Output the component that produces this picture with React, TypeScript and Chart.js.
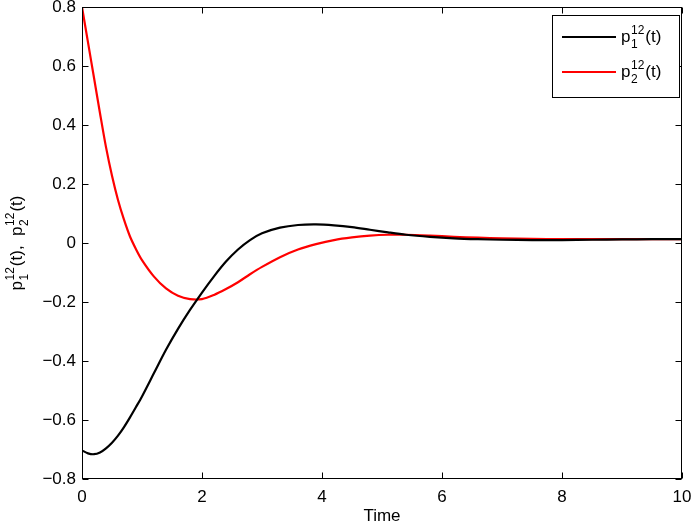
import React, { useEffect, useRef } from "react";
import { Chart, registerables } from "chart.js";
Chart.register(...registerables);

const time = [0, 0.1, 0.2, 0.3, 0.4, 0.5, 0.6, 0.7, 0.8, 0.9, 1.0, 1.2, 1.4, 1.6, 1.8, 2.0, 2.2, 2.4, 2.6, 2.8, 3.0, 3.3, 3.6, 3.9, 4.2, 4.5, 4.8, 5.1, 5.4, 5.8, 6.2, 6.6, 7.0, 7.5, 8.0, 8.5, 9.0, 9.5, 10.0];
const p1 = [-0.703, -0.713, -0.716, -0.710, -0.696, -0.677, -0.653, -0.624, -0.591, -0.556, -0.520, -0.441, -0.362, -0.291, -0.227, -0.168, -0.113, -0.063, -0.022, 0.010, 0.033, 0.052, 0.061, 0.063, 0.060, 0.054, 0.045, 0.036, 0.028, 0.021, 0.016, 0.013, 0.011, 0.010, 0.010, 0.011, 0.012, 0.013, 0.013];
const p2 = [0.800, 0.680, 0.560, 0.440, 0.325, 0.228, 0.146, 0.079, 0.022, -0.021, -0.058, -0.114, -0.154, -0.179, -0.190, -0.190, -0.176, -0.156, -0.133, -0.106, -0.081, -0.048, -0.022, -0.004, 0.010, 0.019, 0.025, 0.028, 0.028, 0.025, 0.021, 0.018, 0.016, 0.014, 0.013, 0.013, 0.013, 0.013, 0.013];
const xTicks = [0, 2, 4, 6, 8, 10];
const yTicks = [-0.8, -0.6, -0.4, -0.2, 0, 0.2, 0.4, 0.6, 0.8];
const seriesNames = [
  { base: "p", sub: "1", sup: "12", tail: "(t)" },
  { base: "p", sub: "2", sup: "12", tail: "(t)" },
];
const seriesColors = ["#000000", "#ff0000"];
const xTitle = "Time";

const FONT = '"Liberation Sans", Arial, Helvetica, sans-serif';
const FS = 17;

type Part = { t: string } | { base: string; sub: string; sup: string };

function drawMath(ctx: CanvasRenderingContext2D, parts: Part[], x: number, y: number, size: number, draw: boolean): number {
  let cx = x;
  const small = Math.round(size * 0.72);
  ctx.textBaseline = "alphabetic";
  ctx.textAlign = "left";
  for (const p of parts) {
    if ("t" in p) {
      ctx.font = `${size}px ${FONT}`;
      if (draw) ctx.fillText(p.t, cx, y);
      cx += ctx.measureText(p.t).width;
    } else {
      ctx.font = `${size}px ${FONT}`;
      if (draw) ctx.fillText(p.base, cx, y);
      cx += ctx.measureText(p.base).width + 0.5;
      ctx.font = `${small}px ${FONT}`;
      const ws = ctx.measureText(p.sup).width;
      const wb = ctx.measureText(p.sub).width;
      if (draw) {
        ctx.fillText(p.sup, cx, y - size * 0.45);
        ctx.fillText(p.sub, cx, y + size * 0.33);
      }
      cx += Math.max(ws, wb) + 1;
    }
  }
  return cx - x;
}

const decor = {
  id: "decor",
  afterDatasetsDraw(chart: any) {
    const ctx: CanvasRenderingContext2D = chart.ctx;
    const a = chart.chartArea;
    const xs = chart.scales.x;
    const ys = chart.scales.y;
    ctx.save();
    ctx.strokeStyle = "#000";
    ctx.lineWidth = 1;
    const L = Math.round(a.left) + 0.5;
    const R = Math.round(a.right) - 0.5;
    const T = Math.round(a.top) + 0.5;
    const B = Math.round(a.bottom) - 0.5;
    ctx.strokeRect(L, T, R - L, B - T);
    const tl = 6;
    ctx.beginPath();
    for (const v of xTicks) {
      const px = Math.round(xs.getPixelForValue(v)) + 0.5;
      ctx.moveTo(px, B); ctx.lineTo(px, B - tl);
      ctx.moveTo(px, T); ctx.lineTo(px, T + tl);
    }
    for (const v of yTicks) {
      const py = Math.round(ys.getPixelForValue(v)) + 0.5;
      ctx.moveTo(L, py); ctx.lineTo(L + tl, py);
      ctx.moveTo(R, py); ctx.lineTo(R - tl, py);
    }
    ctx.stroke();

    // legend
    const lx = 552.5, ly = 15.5, lw = 127, lh = 82;
    ctx.fillStyle = "#fff";
    ctx.fillRect(lx, ly, lw, lh);
    ctx.strokeRect(lx, ly, lw, lh);
    const rows = [37, 72];
    seriesNames.forEach((n, i) => {
      ctx.strokeStyle = seriesColors[i];
      ctx.lineWidth = 2;
      ctx.beginPath();
      ctx.moveTo(562, rows[i]);
      ctx.lineTo(616, rows[i]);
      ctx.stroke();
      ctx.fillStyle = "#000";
      drawMath(ctx, [{ base: n.base, sub: n.sub, sup: n.sup }, { t: n.tail }], 621, rows[i] + 5, FS, true);
    });

    // x title
    ctx.fillStyle = "#000";
    ctx.font = `${FS}px ${FONT}`;
    ctx.textAlign = "center";
    ctx.textBaseline = "alphabetic";
    ctx.fillText(xTitle, (a.left + a.right) / 2, 521);

    // y title
    const parts: Part[] = [
      { base: seriesNames[0].base, sub: seriesNames[0].sub, sup: seriesNames[0].sup },
      { t: seriesNames[0].tail + ",  " },
      { base: seriesNames[1].base, sub: seriesNames[1].sub, sup: seriesNames[1].sup },
      { t: seriesNames[1].tail },
    ];
    ctx.save();
    ctx.translate(22, (a.top + a.bottom) / 2);
    ctx.rotate(-Math.PI / 2);
    const w = drawMath(ctx, parts, 0, 0, FS, false);
    drawMath(ctx, parts, -w / 2, 0, FS, true);
    ctx.restore();
    ctx.restore();
  },
};

function fmtY(v: number): string {
  if (Math.abs(v) < 1e-9) return "0";
  return (v < 0 ? "\u2212" : "") + Math.abs(v).toFixed(1);
}

function zeroPad(s: any) {
  s.paddingLeft = 0;
  s.paddingRight = 0;
  s.paddingTop = 0;
  s.paddingBottom = 0;
}

export default function App() {
  const ref = useRef<HTMLCanvasElement | null>(null);
  useEffect(() => {
    const canvas = ref.current;
    if (!canvas) return;
    const chart = new Chart(canvas, {
      type: "line",
      data: {
        datasets: [
          {
            label: "p1",
            data: time.map((t, i) => ({ x: t, y: p1[i] })),
            borderColor: seriesColors[0],
            borderWidth: 2.2,
            pointRadius: 0,
            tension: 0.3,
            fill: false,
          },
          {
            label: "p2",
            data: time.map((t, i) => ({ x: t, y: p2[i] })),
            borderColor: seriesColors[1],
            borderWidth: 2.2,
            pointRadius: 0,
            tension: 0.3,
            fill: false,
          },
        ],
      },
      options: {
        animation: false,
        responsive: false,
        maintainAspectRatio: false,
        layout: { padding: { left: 0, right: 9, top: 7, bottom: 0 } },
        plugins: { legend: { display: false }, tooltip: { enabled: false }, title: { display: false } },
        scales: {
          x: {
            type: "linear",
            min: 0,
            max: 10,
            afterBuildTicks: (s: any) => { s.ticks = xTicks.map((v) => ({ value: v })); },
            afterFit: (s: any) => { s.height = 45; zeroPad(s); },
            grid: { display: false, drawTicks: false },
            border: { display: false },
            ticks: { padding: 8, color: "#000", maxRotation: 0, autoSkip: false, font: { family: FONT, size: FS }, callback: (v: any) => String(v) },
          },
          y: {
            type: "linear",
            min: -0.8,
            max: 0.8,
            afterBuildTicks: (s: any) => { s.ticks = yTicks.map((v) => ({ value: v })); },
            afterFit: (s: any) => { s.width = 82; zeroPad(s); },
            grid: { display: false, drawTicks: false },
            border: { display: false },
            ticks: { padding: 6, color: "#000", autoSkip: false, font: { family: FONT, size: FS }, callback: (v: any) => fmtY(Number(v)) },
          },
        },
      },
      plugins: [decor],
    } as any);
    return () => chart.destroy();
  }, []);
  return (
    <div style={{ position: "absolute", left: 0, top: 0, width: 691, height: 524, background: "#fff" }}>
      <canvas ref={ref} width={691} height={524} style={{ width: 691, height: 524, display: "block" }} />
    </div>
  );
}
